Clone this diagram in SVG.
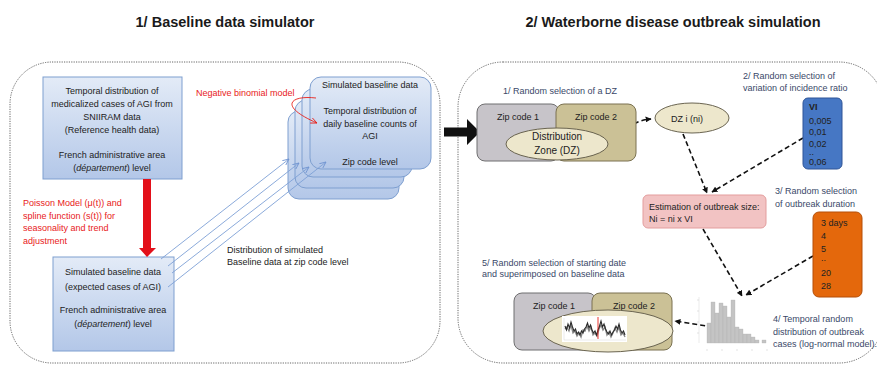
<svg xmlns="http://www.w3.org/2000/svg" width="877" height="366" viewBox="0 0 877 366">
<defs>
<linearGradient id="blueGrad" x1="0" y1="0" x2="0" y2="1">
<stop offset="0" stop-color="#e3ebf7"/>
<stop offset="1" stop-color="#b3c7e8"/>
</linearGradient>
<marker id="arrBlack" viewBox="0 0 10 10" refX="9" refY="5" markerWidth="6" markerHeight="6" orient="auto" markerUnits="userSpaceOnUse">
<path d="M0,0 L10,5 L0,10 z" fill="#111"/>
</marker>
<marker id="arrBlue" viewBox="0 0 10 10" refX="9" refY="5" markerWidth="7" markerHeight="7" orient="auto" markerUnits="userSpaceOnUse">
<path d="M0,1 L9,5 L0,9" fill="none" stroke="#6f93d0" stroke-width="1.2"/>
</marker>
<marker id="arrRed" viewBox="0 0 10 10" refX="9" refY="5" markerWidth="7" markerHeight="7" orient="auto" markerUnits="userSpaceOnUse">
<path d="M0,1 L9,5 L0,9" fill="none" stroke="#e8201a" stroke-width="1.2"/>
</marker>
</defs>
<style>
text{font-family:"Liberation Sans",Arial,sans-serif;font-size:9px;fill:#222}
.title{font-size:14.5px;font-weight:bold;fill:#1a1a1a}
.c{text-anchor:middle}
.red{fill:#e8201a}
.nav{fill:#3a4868}
.panel{fill:none;stroke:#555;stroke-width:0.9;stroke-dasharray:1.2 1.2}
.bbox{fill:url(#blueGrad);stroke:#7e9fd0;stroke-width:1}
.dash{fill:none;stroke:#111;stroke-width:1.6;stroke-dasharray:5 3;marker-end:url(#arrBlack)}
.bl{fill:none;stroke:#7ea0d6;stroke-width:0.9;marker-end:url(#arrBlue)}
.zc1{fill:#c7c4c9;stroke:#6f6f70;stroke-width:1}
.zc2{fill:#cbc196;stroke:#7a7150;stroke-width:1}
.ell{fill:#ede7cc;stroke:#6a6450;stroke-width:1}
.bar{fill:#c4c4c4;stroke:#b0b0b0;stroke-width:0.3}
</style>

<rect width="877" height="366" fill="#ffffff"/>

<text class="title c" x="225" y="27">1/ Baseline data simulator</text>
<text class="title c" x="673" y="27">2/ Waterborne disease outbreak simulation</text>

<rect class="panel" x="10" y="62" width="430" height="301" rx="42"/>
<rect class="panel" x="458" y="62" width="426" height="301" rx="45"/>

<g id="reference-data">
<rect class="bbox" x="43" y="77" width="139" height="102"/>
<text class="c" x="112" y="94">Temporal distribution of</text>
<text class="c" x="112" y="107">medicalized cases of AGI from</text>
<text class="c" x="112" y="120">SNIIRAM data</text>
<text class="c" x="112" y="133">(Reference health data)</text>
<text class="c" x="112" y="158">French administrative area</text>
<text class="c" x="112" y="171">(<tspan font-style="italic">département</tspan>) level</text>
</g>

<g id="poisson-label">
<text class="red" x="23" y="206">Poisson Model (μ(t)) and</text>
<text class="red" x="23" y="218.5">spline function (s(t)) for</text>
<text class="red" x="23" y="231">seasonality and trend</text>
<text class="red" x="23" y="243.5">adjustment</text>
</g>

<g id="simulated-departement">
<rect class="bbox" x="53" y="257" width="121" height="94"/>
<text class="c" x="113" y="275">Simulated baseline data</text>
<text class="c" x="113" y="290">(expected cases of AGI)</text>
<text class="c" x="113" y="313">French administrative area</text>
<text class="c" x="113" y="327">(<tspan font-style="italic">département</tspan>) level</text>
</g>

<g id="zip-stack">
<rect class="bbox" x="288" y="111" width="111" height="88" rx="11"/>
<rect class="bbox" x="295" y="100" width="109" height="88" rx="11"/>
<rect class="bbox" x="302" y="89" width="110" height="88" rx="11"/>
<rect class="bbox" x="310" y="77" width="121" height="92" rx="11"/>
<text class="c" x="370" y="88">Simulated baseline data</text>
<text class="c" x="370" y="114">Temporal distribution of</text>
<text class="c" x="370" y="127">daily baseline counts of</text>
<text class="c" x="370" y="139">AGI</text>
<text class="c" x="370" y="165">Zip code level</text>
</g>

<g id="negbin-label">
<text class="red" x="196" y="96">Negative binomial model</text>
</g>

<g id="distribution-label">
<text x="227" y="253">Distribution of simulated</text>
<text x="227" y="265">Baseline data at zip code level</text>
</g>

<g id="connectors">
<polygon points="143,179 151,179 151,248 156,248 147,257 139,248 143,248" fill="#e3101a"/>
<path d="M316,98 C290,95 278,106 317,123" fill="none" stroke="#e8201a" stroke-width="0.9" marker-end="url(#arrRed)"/>
<line class="bl" x1="161" y1="259" x2="289" y2="159"/>
<line class="bl" x1="168" y1="266" x2="299" y2="163"/>
<line class="bl" x1="172" y1="273" x2="309" y2="167"/>
<line class="bl" x1="168" y1="287" x2="326" y2="162"/>
<polygon points="444,127.5 467,127.5 467,119 480,132 467,145 467,136.5 444,136.5" fill="#111"/>
<path class="dash" d="M608,141 C628,139 624,121 651,119"/>
<path class="dash" d="M683,134 L707,193"/>
<path class="dash" d="M803,138 L712,192"/>
<path class="dash" d="M703,229 L742,296"/>
<path class="dash" d="M813,256 L746,295"/>
<path class="dash" d="M713,327 L675,321"/>
</g>

<g id="dz-selection">
<text class="nav" x="503" y="94">1/ Random selection of a DZ</text>
<rect class="zc1" x="477" y="104" width="82" height="57" rx="8"/>
<rect class="zc2" x="556" y="104" width="80" height="57" rx="8"/>
<text class="c" x="518" y="120" fill="#333">Zip code 1</text>
<text class="c" x="596" y="120">Zip code 2</text>
<ellipse class="ell" cx="557" cy="144" rx="51" ry="16"/>
<text class="c" x="557" y="140" style="font-size:10px">Distribution</text>
<text class="c" x="557" y="154" style="font-size:10px">Zone (DZ)</text>
</g>

<g id="dz-i">
<ellipse class="ell" cx="692" cy="118" rx="37" ry="15"/>
<text class="c" x="687" y="121.5">DZ i (ni)</text>
</g>

<g id="vi-selection">
<text class="nav" x="743" y="79">2/ Random selection of</text>
<text class="nav" x="743" y="91">variation of incidence ratio</text>
<rect x="803" y="98" width="39" height="71" rx="5" fill="#4677c4" stroke="#2f5597" stroke-width="1"/>
<text x="809" y="110" font-weight="bold" fill="#111">VI</text>
<text x="809" y="123.5" fill="#111">0,005</text>
<text x="809" y="135" fill="#111">0,01</text>
<text x="809" y="146.5" fill="#111">0,02</text>
<text x="809" y="155" fill="#111">..</text>
<text x="809" y="165" fill="#111">0,06</text>
</g>

<g id="outbreak-size">
<rect x="643" y="195" width="123" height="33" rx="5" fill="#f2c3c3" stroke="#e39d9d" stroke-width="1"/>
<text x="649" y="210">Estimation of outbreak size:</text>
<text x="649" y="222">Ni = ni x VI</text>
</g>

<g id="duration-selection">
<text class="nav" x="775" y="194">3/ Random selection</text>
<text class="nav" x="775" y="207">of outbreak duration</text>
<rect x="813" y="212" width="49" height="85" rx="6" fill="#e4680c" stroke="#b54f08" stroke-width="1"/>
<text x="821" y="226" fill="#222">3 days</text>
<text x="821" y="239" fill="#222">4</text>
<text x="821" y="252" fill="#222">5</text>
<text x="821" y="261" fill="#222">..</text>
<text x="821" y="276" fill="#222">20</text>
<text x="821" y="289" fill="#222">28</text>
</g>

<g id="histogram">
<line x1="699" y1="297" x2="699" y2="343" stroke="#dedede" stroke-width="0.6"/>
<g stroke="#d0d0d0" stroke-width="0.6">
<line x1="697" y1="300" x2="699" y2="300"/><line x1="697" y1="311" x2="699" y2="311"/><line x1="697" y1="322" x2="699" y2="322"/><line x1="697" y1="333" x2="699" y2="333"/>
<line x1="707" y1="349" x2="707" y2="351"/><line x1="722" y1="349" x2="722" y2="351"/><line x1="737" y1="349" x2="737" y2="351"/><line x1="752" y1="349" x2="752" y2="351"/><line x1="767" y1="349" x2="767" y2="351"/>
</g>
<rect class="bar" x="707" y="323" width="4" height="20"/>
<rect class="bar" x="711" y="302" width="4" height="41"/>
<rect class="bar" x="715" y="313" width="4" height="30"/>
<rect class="bar" x="719" y="303" width="4" height="40"/>
<rect class="bar" x="723" y="306" width="4" height="37"/>
<rect class="bar" x="727" y="317" width="4" height="26"/>
<rect class="bar" x="731" y="300" width="4" height="43"/>
<rect class="bar" x="735" y="327" width="4" height="16"/>
<rect class="bar" x="739" y="329" width="4" height="14"/>
<rect class="bar" x="743" y="334" width="4" height="9"/>
<rect class="bar" x="747" y="334" width="4" height="9"/>
<rect class="bar" x="751" y="337" width="4" height="6"/>
<rect class="bar" x="755" y="340" width="4" height="3"/>
<rect class="bar" x="762" y="340" width="4" height="3"/>
<text class="nav" x="773" y="322">4/ Temporal random</text>
<text class="nav" x="773" y="335">distribution of outbreak</text>
<text class="nav" x="773" y="347">cases (log-normal model).</text>
</g>

<g id="superimposition">
<text class="nav" x="482" y="266">5/ Random selection of starting date</text>
<text class="nav" x="482" y="277">and superimposed on baseline data</text>
<rect class="zc1" x="514" y="293" width="82" height="57" rx="8"/>
<rect class="zc2" x="592" y="293" width="80" height="57" rx="8" fill="#c1b582"/>
<text class="c" x="554" y="309">Zip code 1</text>
<text class="c" x="634" y="309">Zip code 2</text>
<ellipse class="ell" cx="608" cy="331" rx="65" ry="21"/>
<rect x="562" y="316" width="65" height="26" fill="#ffffff"/>
<line x1="564" y1="340" x2="626" y2="340" stroke="#ccc" stroke-width="0.4"/>
<line x1="564" y1="318" x2="564" y2="340" stroke="#ccc" stroke-width="0.4"/>
<polyline fill="none" stroke="#888" stroke-width="1.4" points="565,329 567,327 569,331 571,325 573,333 575,331 577,336 579,333 581,337 583,330 585,331 587,326 589,331 591,327 593,335 595,333 597,336 599,329 601,325 603,330 605,327 607,335 609,332 611,337 613,333 615,328 617,332 619,327 621,335 623,333 625,337"/>
<polyline fill="none" stroke="#2a2a2a" stroke-width="1.1" points="565,326 566.5,330 568,324 569.5,328 571,322 572.5,327 574,331 575.5,329 577,334 578.5,332 580,335 581.5,331 583,333 584.5,329 586,327 587.5,323 589,328 590.5,325 592,330 593.5,333 595,331 596.5,335 598,330 599.5,326 601,321 602.5,327 604,324 605.5,329 607,332 608.5,334 610,331 611.5,335 613,332 614.5,330 616,326 617.5,329 619,324 620.5,330 622,333 623.5,331 625,335"/>
<line x1="598" y1="317" x2="598" y2="339" stroke="#e8201a" stroke-width="0.9"/>
</g>
</svg>
